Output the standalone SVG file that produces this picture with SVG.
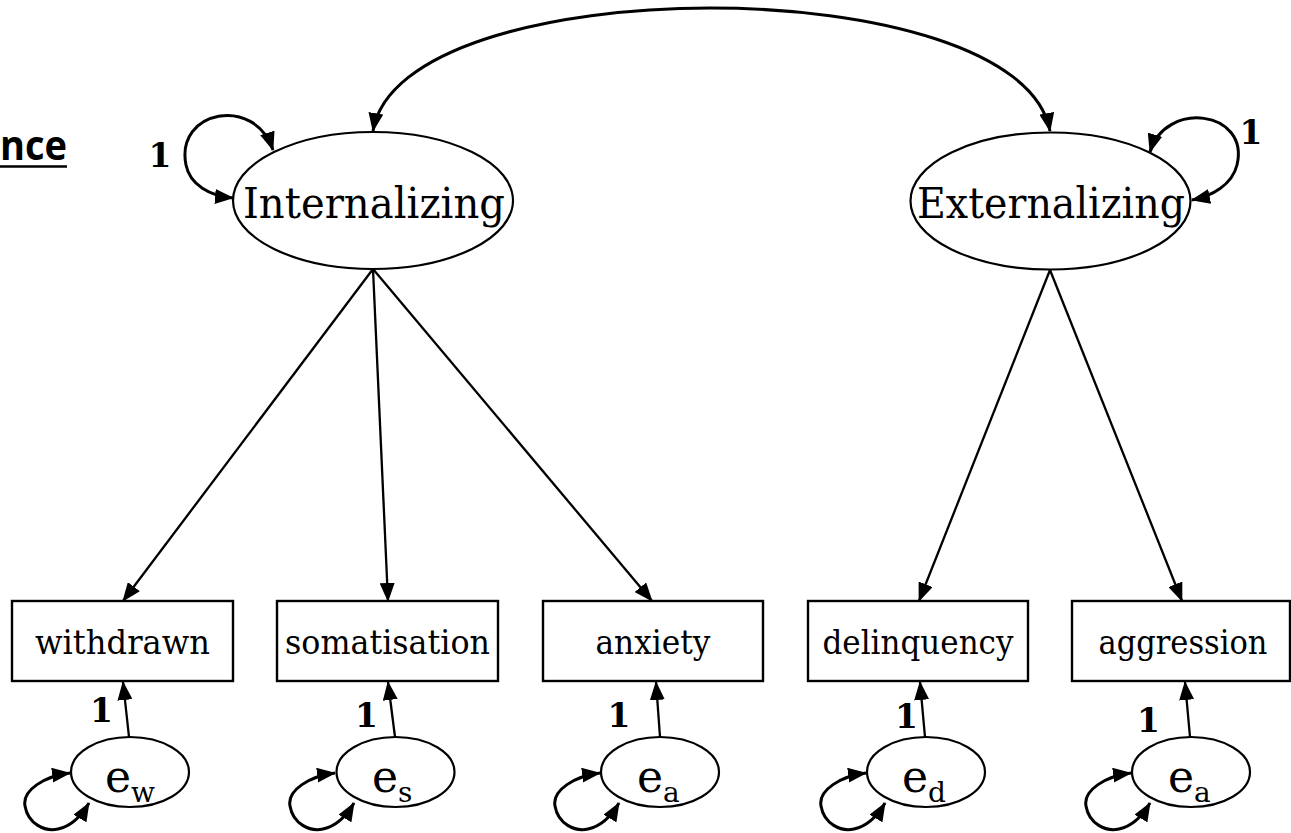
<svg xmlns="http://www.w3.org/2000/svg" width="1291" height="833" viewBox="0 0 1291 833">
<style>
.bg{fill:#fff}
.lat{fill:#fff;stroke:#000;stroke-width:2.2}
.box{fill:#fff;stroke:#000;stroke-width:2.4}
.err{fill:#fff;stroke:#000;stroke-width:2.2}
.c{fill:none;stroke:#000;stroke-width:2.3}
.cv{fill:none;stroke:#000;stroke-width:3}
.big{font-family:"DejaVu Serif","Liberation Serif",serif;font-size:42px;fill:#000;text-anchor:middle}
.lab{font-family:"DejaVu Serif","Liberation Serif",serif;font-size:33px;fill:#000;text-anchor:middle}
.one{font-family:"DejaVu Serif","Liberation Serif",serif;font-size:33px;font-weight:bold;fill:#000;text-anchor:middle}
.e{font-family:"DejaVu Serif","Liberation Serif",serif;font-size:44px;fill:#000}
.sub{font-size:28px}
.head{font-family:"Open Sans","Liberation Sans",sans-serif;font-size:42px;font-weight:bold;fill:#000}
</style>
<defs>
<marker id="ah" viewBox="0 0 19 15" refX="18" refY="7.5" markerWidth="19" markerHeight="15" markerUnits="userSpaceOnUse" orient="auto-start-reverse">
<path d="M0,0 L19,7.5 L0,15 z" fill="#000"/>
</marker>
<path id="eloop" d="M70,773 C45,776 22,790 25,806 C28,824 45,832 58,829 C72,826 82,815 89,803"/>
</defs>
<rect class="bg" x="0" y="0" width="1291" height="833"/>

<g id="title">
<text class="head" x="0" y="160" textLength="67" lengthAdjust="spacingAndGlyphs">nce</text>
<line x1="0" y1="166.5" x2="67" y2="166.5" stroke="#000" stroke-width="2.5"/>
</g>

<g id="connectors">
<path class="cv" d="M373,131 C400,-33 1020,-33 1050,131" marker-start="url(#ah)" marker-end="url(#ah)"/>
<path class="cv" d="M273,150 C255,95 175,110 186,165 C190,185 210,196 233,198" marker-start="url(#ah)" marker-end="url(#ah)"/>
<path class="cv" d="M1150,152 C1165,100 1250,110 1237,165 C1232,185 1212,196 1192,200" marker-start="url(#ah)" marker-end="url(#ah)"/>
<line class="c" x1="373" y1="269" x2="123" y2="601" marker-end="url(#ah)"/>
<line class="c" x1="373" y1="269" x2="388" y2="601" marker-end="url(#ah)"/>
<line class="c" x1="373" y1="269" x2="652" y2="601" marker-end="url(#ah)"/>
<line class="c" x1="1050" y1="270" x2="919" y2="601" marker-end="url(#ah)"/>
<line class="c" x1="1050" y1="270" x2="1182" y2="601" marker-end="url(#ah)"/>
<line class="c" x1="129" y1="737" x2="123" y2="682" marker-end="url(#ah)"/>
<line class="c" x1="395" y1="737" x2="388" y2="682" marker-end="url(#ah)"/>
<line class="c" x1="660" y1="737" x2="656" y2="682" marker-end="url(#ah)"/>
<line class="c" x1="925" y1="737" x2="920" y2="682" marker-end="url(#ah)"/>
<line class="c" x1="1190" y1="737" x2="1185" y2="682" marker-end="url(#ah)"/>
<use href="#eloop" class="cv" marker-start="url(#ah)" marker-end="url(#ah)"/>
<use href="#eloop" class="cv" transform="translate(265,0)" marker-start="url(#ah)" marker-end="url(#ah)"/>
<use href="#eloop" class="cv" transform="translate(530,0)" marker-start="url(#ah)" marker-end="url(#ah)"/>
<use href="#eloop" class="cv" transform="translate(796,0)" marker-start="url(#ah)" marker-end="url(#ah)"/>
<use href="#eloop" class="cv" transform="translate(1061,0)" marker-start="url(#ah)" marker-end="url(#ah)"/>
<text class="one" x="160" y="167">1</text>
<text class="one" x="1251" y="144">1</text>
<text class="one" x="101.5" y="722">1</text>
<text class="one" x="366.5" y="727">1</text>
<text class="one" x="619" y="727">1</text>
<text class="one" x="906.5" y="728">1</text>
<text class="one" x="1148.5" y="732">1</text>
</g>

<g id="internalizing">
<ellipse class="lat" cx="373" cy="200.5" rx="140" ry="68.5"/>
<text class="big" x="374" y="218" textLength="262" lengthAdjust="spacingAndGlyphs">Internalizing</text>
</g>
<g id="externalizing">
<ellipse class="lat" cx="1050.5" cy="201" rx="140" ry="68.5"/>
<text class="big" x="1051" y="218" textLength="268" lengthAdjust="spacingAndGlyphs">Externalizing</text>
</g>

<g id="withdrawn">
<rect class="box" x="12" y="601" width="221" height="80"/>
<text class="lab" x="122.5" y="654" textLength="175" lengthAdjust="spacingAndGlyphs">withdrawn</text>
</g>
<g id="somatisation">
<rect class="box" x="277" y="601" width="221" height="80"/>
<text class="lab" x="387.5" y="654" textLength="205" lengthAdjust="spacingAndGlyphs">somatisation</text>
</g>
<g id="anxiety">
<rect class="box" x="543" y="601" width="220" height="80"/>
<text class="lab" x="653" y="654" textLength="115" lengthAdjust="spacingAndGlyphs">anxiety</text>
</g>
<g id="delinquency">
<rect class="box" x="808" y="601" width="220" height="80"/>
<text class="lab" x="918" y="654" textLength="191" lengthAdjust="spacingAndGlyphs">delinquency</text>
</g>
<g id="aggression">
<rect class="box" x="1072" y="601" width="218" height="80"/>
<text class="lab" x="1183" y="654" textLength="169" lengthAdjust="spacingAndGlyphs">aggression</text>
</g>

<g id="e_w">
<ellipse class="err" cx="130" cy="772" rx="59" ry="35"/>
<text class="e" x="105" y="792">e<tspan class="sub" dy="10">w</tspan></text>
</g>
<g id="e_s">
<ellipse class="err" cx="395.5" cy="772" rx="59" ry="35"/>
<text class="e" x="372" y="792">e<tspan class="sub" dy="10">s</tspan></text>
</g>
<g id="e_a1">
<ellipse class="err" cx="660" cy="772" rx="59" ry="35"/>
<text class="e" x="637" y="792">e<tspan class="sub" dy="10">a</tspan></text>
</g>
<g id="e_d">
<ellipse class="err" cx="926" cy="772" rx="59" ry="35"/>
<text class="e" x="902" y="792">e<tspan class="sub" dy="10">d</tspan></text>
</g>
<g id="e_a2">
<ellipse class="err" cx="1191" cy="772" rx="59" ry="35"/>
<text class="e" x="1168" y="792">e<tspan class="sub" dy="10">a</tspan></text>
</g>
</svg>
